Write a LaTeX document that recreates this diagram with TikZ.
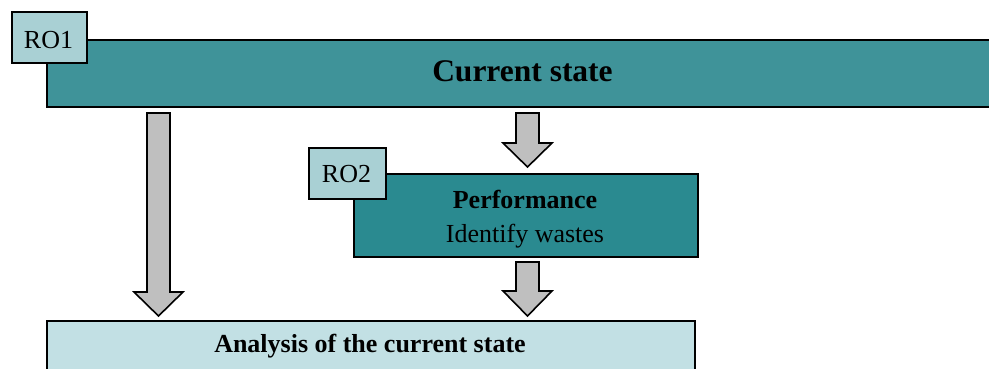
\documentclass[tikz,border=0pt]{standalone}
\usepackage{fontspec}
\setmainfont{Liberation Serif}
\definecolor{tealA}{HTML}{3F9399}
\definecolor{tealB}{HTML}{2A8A90}
\definecolor{paleA}{HTML}{A9D0D4}
\definecolor{paleB}{HTML}{C2E0E4}
\definecolor{arrowgray}{HTML}{BFBFBF}
\tikzset{
  boxbase/.style={draw=black, line width=1.8pt, inner sep=0pt, anchor=north west},
  mainbox/.style={boxbase, fill=tealA},
  perfbox/.style={boxbase, fill=tealB},
  tagbox/.style={boxbase, fill=paleA},
  resultbox/.style={boxbase, fill=paleB},
  txt/.style={anchor=base, inner sep=0pt, font=\fontsize{26}{30}\selectfont},
  bigtxt/.style={anchor=base, inner sep=0pt, font=\fontsize{31.5}{36}\selectfont\bfseries},
  blockarrow/.style={draw=black, line width=1.6pt, fill=arrowgray, line join=miter}
}
% block arrow pointing down: centre x, top y, head start y, tip y
\newcommand{\downblock}[4]{%
  \draw[blockarrow] (#1-11.5,#2) -- (#1+11.5,#2) -- (#1+11.5,#3) -- (#1+24.5,#3)
    -- (#1,#4) -- (#1-24.5,#3) -- (#1-11.5,#3) -- cycle;}
\begin{document}
\begin{tikzpicture}[x=1pt,y=-1pt]
\useasboundingbox (0,0) rectangle (989,368);

% top band and its tag
\node[mainbox, minimum width=960pt, minimum height=67pt] (cur) at (46,39) {};
\node[bigtxt] (curtxt) at (522.5,81) {Current state};
\node[tagbox, minimum width=75pt, minimum height=51pt] (ro1) at (11,11) {};
\node[txt] (ro1txt) at (48.5,48) {RO1};

% performance box and its tag
\node[perfbox, minimum width=344pt, minimum height=83pt] (perf) at (353,173) {};
\node[txt, font=\fontsize{26}{30}\selectfont\bfseries] (perftxt) at (525,208) {Performance};
\node[txt] (wastetxt) at (525,242) {Identify wastes};
\node[tagbox, minimum width=77pt, minimum height=51pt] (ro2) at (308,147) {};
\node[txt] (ro2txt) at (346.5,182) {RO2};

% result box
\node[resultbox, minimum width=648pt, minimum height=70pt] (ana) at (46,320) {};
\node[txt, font=\fontsize{26}{30}\selectfont\bfseries] (anatxt) at (370,352) {Analysis of the current state};

% flow arrows
\downblock{158.5}{113}{292}{316}
\downblock{527.5}{113}{143}{167}
\downblock{527.5}{262}{291}{316}
\end{tikzpicture}
\end{document}
